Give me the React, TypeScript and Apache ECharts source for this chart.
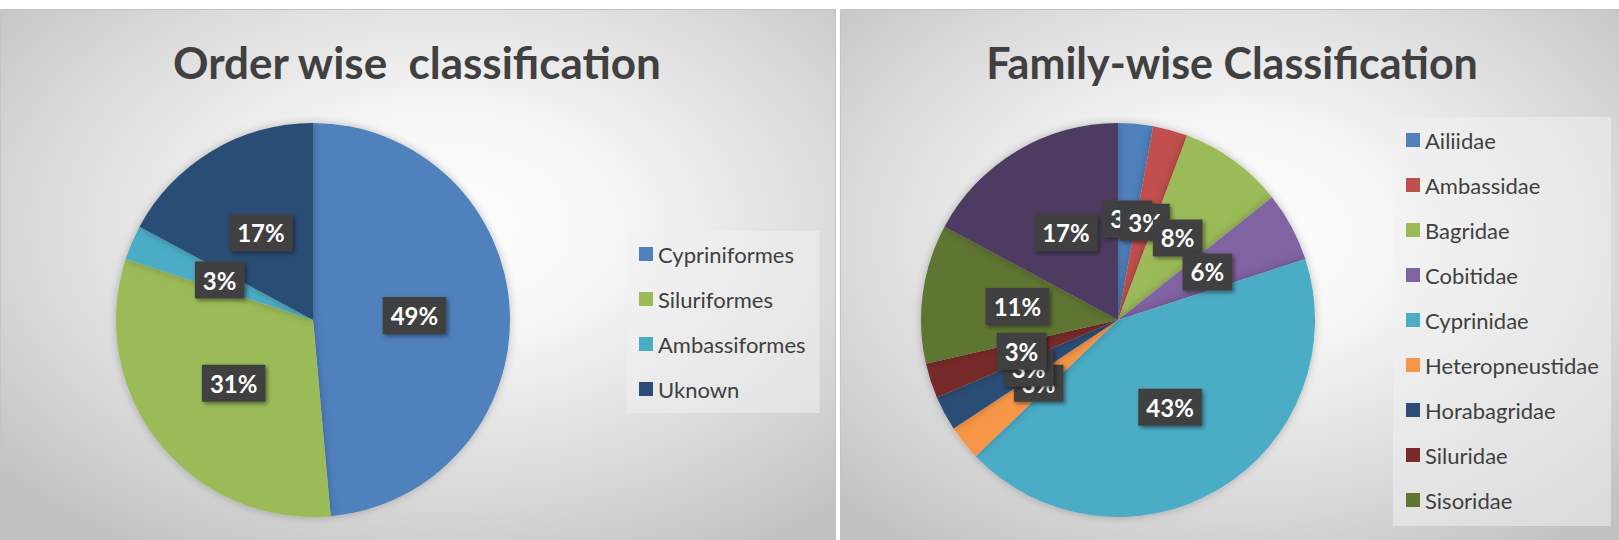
import React, { useEffect, useRef } from "react";
import * as echarts from "echarts";

const orderNames = ["Cypriniformes", "Siluriformes", "Ambassiformes", "Uknown"];
const orderCounts = [17, 11, 1, 6];
const orderLabels = ["49%", "31%", "3%", "17%"];
const orderColors = ["#4F81BD", "#9BBB59", "#4BACC6", "#2C4D75"];

const familyNames = [
  "Ailiidae",
  "Ambassidae",
  "Bagridae",
  "Cobitidae",
  "Cyprinidae",
  "Heteropneustidae",
  "Horabagridae",
  "Siluridae",
  "Sisoridae",
  "Unknown",
];
const familyCounts = [1, 1, 3, 2, 15, 1, 1, 1, 4, 6];
const familyLabels = ["3%", "3%", "8%", "6%", "43%", "3%", "3%", "3%", "11%", "17%"];
const familyColors = [
  "#4F81BD",
  "#C0504D",
  "#9BBB59",
  "#8064A2",
  "#4BACC6",
  "#F79646",
  "#2C4D75",
  "#772C2A",
  "#5F7530",
  "#4D3B62",
];
const familyLegendNames = familyNames.slice(0, 9);

const titles = ["Order wise  classification", "Family-wise Classification"];

const FONT = "Lato, 'Open Sans', sans-serif";

function panelFill(cx: number, cy: number) {
  return new echarts.graphic.RadialGradient(cx, cy, 0.7, [
    { offset: 0, color: "#ffffff" },
    { offset: 0.3, color: "#f6f6f6" },
    { offset: 0.75, color: "#d6d6d6" },
    { offset: 1, color: "#c2c2c2" },
  ]);
}

const labelStyle = (labels: string[]) => ({
  show: true,
  position: "inside",
  formatter: (p: any) => labels[p.dataIndex],
  color: "#ffffff",
  fontFamily: FONT,
  fontWeight: "bold",
  fontSize: 24,
  backgroundColor: "#404040",
  padding: [7, 8, 6, 8],
  shadowColor: "rgba(0,0,0,0.45)",
  shadowBlur: 4,
  shadowOffsetX: 2,
  shadowOffsetY: 2,
});

const legendText = {
  fontFamily: FONT,
  fontSize: 22,
  lineHeight: 24,
  color: "#404040",
};

export default function App() {
  const ref = useRef<HTMLDivElement>(null);
  useEffect(() => {
    if (!ref.current) return;
    const chart = echarts.init(ref.current, undefined, { renderer: "svg" });
    chart.setOption({
      animation: false,
      backgroundColor: "#ffffff",
      graphic: {
        elements: [
          {
            type: "rect",
            silent: true,
            z: -10,
            shape: { x: 0.5, y: 9.5, width: 835, height: 540 },
            style: { fill: panelFill(0.53, 0.4), stroke: "#c4c4c4", lineWidth: 1 },
          },
          {
            type: "rect",
            silent: true,
            z: -10,
            shape: { x: 840.5, y: 9.5, width: 780, height: 540 },
            style: { fill: panelFill(0.5, 0.42), stroke: "#c4c4c4", lineWidth: 1 },
          },
          {
            type: "text",
            silent: true,
            x: 417,
            y: 62,
            style: {
              text: titles[0],
              fontFamily: FONT,
              fontWeight: "bold",
              fontSize: 44,
              fill: "#404040",
              align: "center",
              verticalAlign: "middle",
            },
          },
          {
            type: "text",
            silent: true,
            x: 1232,
            y: 62,
            style: {
              text: titles[1],
              fontFamily: FONT,
              fontWeight: "bold",
              fontSize: 43,
              fill: "#404040",
              align: "center",
              verticalAlign: "middle",
            },
          },
        ],
      },
      legend: [
        {
          data: orderNames,
          orient: "vertical",
          left: 627,
          top: 231,
          padding: [11, 14, 12, 12],
          itemGap: 21,
          itemWidth: 14,
          itemHeight: 14,
          itemTextGap: 7,
          icon: "rect",
          backgroundColor: "rgba(240,240,240,0.55)",
          textStyle: legendText,
          selectedMode: false,
        },
        {
          data: familyLegendNames,
          orient: "vertical",
          left: 1393,
          top: 117,
          padding: [11, 12, 14, 13],
          itemGap: 21,
          itemWidth: 14,
          itemHeight: 14,
          itemTextGap: 7,
          icon: "rect",
          backgroundColor: "rgba(240,240,240,0.55)",
          textStyle: legendText,
          selectedMode: false,
        },
      ],
      series: [
        {
          type: "pie",
          center: [313, 320],
          radius: 197,
          startAngle: 90,
          clockwise: true,
          avoidLabelOverlap: false,
          labelLayout: { hideOverlap: false },
          emphasis: { disabled: true },
          itemStyle: { shadowBlur: 8, shadowColor: "rgba(0,0,0,0.25)" },
          label: labelStyle(orderLabels),
          labelLine: { show: false },
          data: orderNames.map((n, i) => ({
            name: n,
            value: orderCounts[i],
            itemStyle: { color: orderColors[i] },
          })),
        },
        {
          type: "pie",
          center: [1118, 320],
          radius: 197,
          startAngle: 90,
          clockwise: true,
          avoidLabelOverlap: false,
          labelLayout: { hideOverlap: false },
          emphasis: { disabled: true },
          itemStyle: { shadowBlur: 8, shadowColor: "rgba(0,0,0,0.25)" },
          label: labelStyle(familyLabels),
          labelLine: { show: false },
          data: familyNames.map((n, i) => ({
            name: n,
            value: familyCounts[i],
            itemStyle: { color: familyColors[i] },
          })),
        },
      ],
    });
    return () => chart.dispose();
  }, []);
  return (
    <div
      ref={ref}
      style={{ position: "absolute", left: 0, top: 0, width: 1619, height: 540 }}
    />
  );
}
